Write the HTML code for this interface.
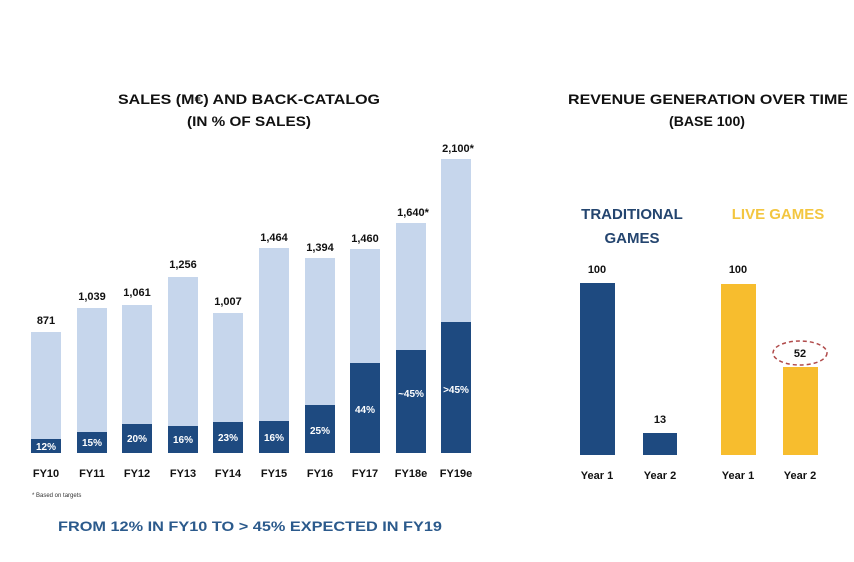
<!DOCTYPE html>
<html><head><meta charset="utf-8"><style>
html,body{margin:0;padding:0;background:#fff;}
svg{display:block;font-family:"Liberation Sans",sans-serif;font-weight:bold;}
</style></head><body>
<svg width="854" height="562" viewBox="0 0 854 562" xmlns="http://www.w3.org/2000/svg">
<rect width="854" height="562" fill="#fff"/>
<g fill="#111" font-size="14">
<text x="118" y="104" textLength="262" lengthAdjust="spacingAndGlyphs">SALES (M€) AND BACK-CATALOG</text>
<text x="187" y="126" textLength="124" lengthAdjust="spacingAndGlyphs">(IN % OF SALES)</text>
<text x="568" y="104" textLength="280" lengthAdjust="spacingAndGlyphs">REVENUE GENERATION OVER TIME</text>
<text x="669" y="126" textLength="76" lengthAdjust="spacingAndGlyphs">(BASE 100)</text>
</g>
<g id="bars">
<!-- x, lightTop, darkTop -->
</g>
<g fill="#c6d6ec">
<rect x="31" y="332" width="30" height="121"/>
<rect x="77" y="308" width="30" height="145"/>
<rect x="122" y="305" width="30" height="148"/>
<rect x="168" y="277" width="30" height="176"/>
<rect x="213" y="313" width="30" height="140"/>
<rect x="259" y="248" width="30" height="205"/>
<rect x="305" y="258" width="30" height="195"/>
<rect x="350" y="249" width="30" height="204"/>
<rect x="396" y="223" width="30" height="230"/>
<rect x="441" y="159" width="30" height="294"/>
</g>
<g fill="#1e4a80">
<rect x="31" y="439" width="30" height="14"/>
<rect x="77" y="432" width="30" height="21"/>
<rect x="122" y="424" width="30" height="29"/>
<rect x="168" y="426" width="30" height="27"/>
<rect x="213" y="422" width="30" height="31"/>
<rect x="259" y="421" width="30" height="32"/>
<rect x="305" y="405" width="30" height="48"/>
<rect x="350" y="363" width="30" height="90"/>
<rect x="396" y="350" width="30" height="103"/>
<rect x="441" y="322" width="30" height="131"/>
</g>
<g fill="#111" font-size="11" text-anchor="middle">
<text x="46" y="324">871</text>
<text x="92" y="300">1,039</text>
<text x="137" y="296">1,061</text>
<text x="183" y="268">1,256</text>
<text x="228" y="305">1,007</text>
<text x="274" y="241">1,464</text>
<text x="320" y="251">1,394</text>
<text x="365" y="242">1,460</text>
<text x="413" y="216">1,640*</text>
<text x="458" y="152">2,100*</text>
</g>
<g fill="#fff" font-size="10" text-anchor="middle">
<text x="46" y="450">12%</text>
<text x="92" y="446">15%</text>
<text x="137" y="442">20%</text>
<text x="183" y="443">16%</text>
<text x="228" y="441">23%</text>
<text x="274" y="441">16%</text>
<text x="320" y="434">25%</text>
<text x="365" y="413">44%</text>
<text x="411" y="397">~45%</text>
<text x="456" y="393">&gt;45%</text>
</g>
<g fill="#111" font-size="11" text-anchor="middle">
<text x="46" y="477">FY10</text>
<text x="92" y="477">FY11</text>
<text x="137" y="477">FY12</text>
<text x="183" y="477">FY13</text>
<text x="228" y="477">FY14</text>
<text x="274" y="477">FY15</text>
<text x="320" y="477">FY16</text>
<text x="365" y="477">FY17</text>
<text x="411" y="477">FY18e</text>
<text x="456" y="477">FY19e</text>
</g>
<text x="32" y="497" font-size="6" font-weight="normal" fill="#333">* Based on targets</text>
<text x="58" y="531" font-size="14" fill="#2b5a8c" textLength="384" lengthAdjust="spacingAndGlyphs">FROM 12% IN FY10 TO &gt; 45% EXPECTED IN FY19</text>

<g font-size="15" text-anchor="middle">
<text x="632" y="219" fill="#24456f">TRADITIONAL</text>
<text x="632" y="243" fill="#24456f">GAMES</text>
<text x="778" y="219" fill="#f3c640">LIVE GAMES</text>
</g>
<rect x="580" y="283" width="35" height="172" fill="#1e4a80"/>
<rect x="643" y="433" width="34" height="22" fill="#1e4a80"/>
<rect x="721" y="284" width="35" height="171" fill="#f7bd2e"/>
<rect x="783" y="367" width="35" height="88" fill="#f7bd2e"/>
<ellipse cx="800" cy="353" rx="27" ry="12" fill="none" stroke="#b04a4a" stroke-width="1.5" stroke-dasharray="4,3"/>
<g fill="#111" font-size="11" text-anchor="middle">
<text x="597" y="273">100</text>
<text x="660" y="423">13</text>
<text x="738" y="273">100</text>
<text x="800" y="357">52</text>
<text x="597" y="479">Year 1</text>
<text x="660" y="479">Year 2</text>
<text x="738" y="479">Year 1</text>
<text x="800" y="479">Year 2</text>
</g>
</svg>
</body></html>
